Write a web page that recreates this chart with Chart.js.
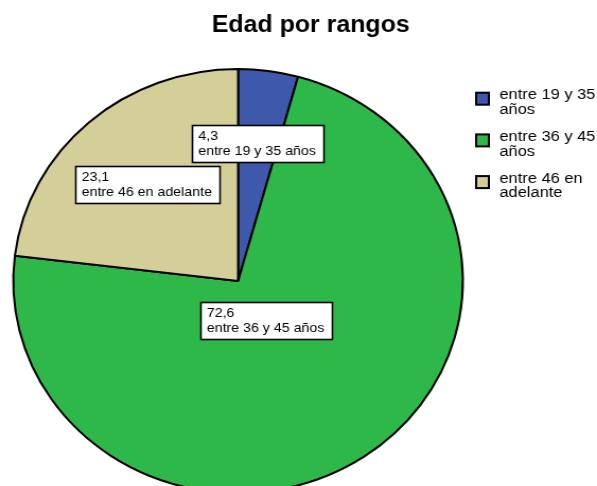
<!DOCTYPE html>
<html>
<head>
<meta charset="utf-8">
<title>Edad por rangos</title>
<script src="https://cdn.jsdelivr.net/npm/chart.js@4.4.0/dist/chart.umd.min.js"></script>
<style>
  html, body { margin: 0; padding: 0; background: #fff; overflow: hidden; }
  #wrap { width: 597px; height: 486px; overflow: hidden; }
  /* the source picture is a little wider than tall, so the canvas is stretched sideways */
  #EdadChart { display: block; width: 597px !important; height: 510px !important; }
</style>
</head>
<body>
<div id="wrap"><canvas id="EdadChart" width="563" height="510" style="width:597px;height:510px"></canvas></div>
<script>
(function () {
  "use strict";

  // Data
  const titleText     = 'Edad por rangos';
  const rangeLabels   = ['entre 19 y 35 años', 'entre 36 y 45 años', 'entre 46 en adelante'];
  const percentValues = [4.3, 72.6, 23.1];

  // Colors
  const sliceColors = ['#3e58ab', '#2fb84a', '#d4ce98'];
  const lineBlack   = '#000000';

  // Layout (where each value box sits along the slice middle, share of radius)
  const labelDistance = [0.655, 0.227, 0.61];
  const fontFamily = '"Liberation Sans", Arial, Helvetica, sans-serif';

  // 4.3 -> "4,3"
  function formatValue(v) {
    return v.toFixed(1).replace('.', ',');
  }

  function wrapText(ctx, text, maxWidth) {
    const words = text.split(' ');
    const lines = [];
    let line = '';
    words.forEach(function (w) {
      const test = line ? line + ' ' + w : w;
      if (line && ctx.measureText(test).width > maxWidth) {
        lines.push(line);
        line = w;
      } else {
        line = test;
      }
    });
    lines.push(line);
    return lines;
  }

  // title, value boxes and legend drawn on top of the pie
  const decorations = {
    id: 'decorations',
    afterDraw: function (chart) {
      const ctx = chart.ctx;
      const meta = chart.getDatasetMeta(0);
      ctx.save();

      // TITLE
      ctx.fillStyle = lineBlack;
      ctx.font = 'bold 23.5px ' + fontFamily;
      ctx.textAlign = 'center';
      ctx.textBaseline = 'alphabetic';
      ctx.fillText(titleText, 293, 32);

      // VALUE BOXES
      ctx.font = '13.4px ' + fontFamily;
      ctx.textAlign = 'left';
      meta.data.forEach(function (arc, i) {
        const p = arc.getProps(['x', 'y', 'startAngle', 'endAngle', 'outerRadius'], true);
        const mid = (p.startAngle + p.endAngle) / 2;
        const d = p.outerRadius * labelDistance[i];
        const cx = p.x + Math.cos(mid) * d;
        const cy = p.y + Math.sin(mid) * d;
        const lines = [formatValue(percentValues[i]), rangeLabels[i]];
        const w = Math.round(Math.max.apply(null, lines.map(function (l) {
          return ctx.measureText(l).width;
        })) + 13);
        const h = 37;
        const x0 = Math.round(cx - w / 2) + 0.5;
        const y0 = Math.round(cy - h / 2) + 0.5;
        ctx.fillStyle = '#ffffff';
        ctx.fillRect(x0, y0, w, h);
        ctx.strokeStyle = lineBlack;
        ctx.lineWidth = 1.6;
        ctx.strokeRect(x0, y0, w, h);
        ctx.fillStyle = lineBlack;
        lines.forEach(function (l, j) {
          ctx.fillText(l, x0 + 5.5, y0 + 14.5 + j * 15);
        });
      });

      // LEGEND
      ctx.font = '15.5px ' + fontFamily;
      rangeLabels.forEach(function (label, i) {
        const top = 92.7 + i * 41.7;
        ctx.fillStyle = sliceColors[i];
        ctx.fillRect(449, top, 12, 12);
        ctx.strokeStyle = lineBlack;
        ctx.lineWidth = 2;
        ctx.strokeRect(449, top, 12, 12);
        ctx.fillStyle = lineBlack;
        wrapText(ctx, label, 93).forEach(function (l, j) {
          ctx.fillText(l, 471, top + 6.6 + j * 14.5);
        });
      });

      ctx.restore();
    }
  };

  const myChart = function () {
    const canvas = document.getElementById('EdadChart');
    if (canvas == null) return;
    const ctx = canvas.getContext('2d');
    new Chart(ctx, {
      type: 'pie',
      data: {
        labels: rangeLabels,
        datasets: [{
          label: titleText,
          data: percentValues,
          backgroundColor: sliceColors,
          borderColor: lineBlack,
          borderWidth: 2,
          radius: 212
        }]
      },
      options: {
        responsive: false,
        animation: false,
        events: [],
        layout: {
          padding: { left: 12, right: 126, top: 69, bottom: 17 }
        },
        plugins: {
          legend: { display: false },
          title: { display: false },
          tooltip: { enabled: false }
        }
      },
      plugins: [decorations]
    });
  };

  myChart();

})();
</script>
</body>
</html>
